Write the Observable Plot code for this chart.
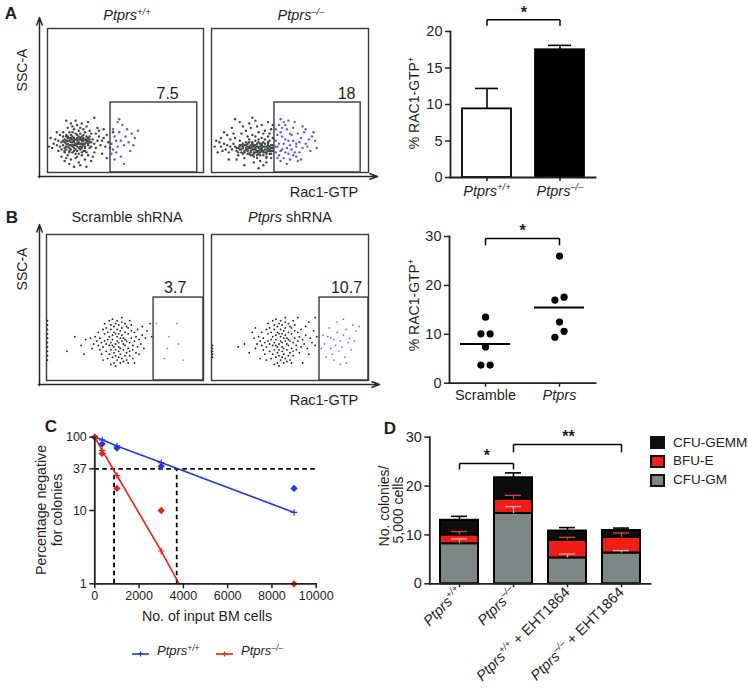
<!DOCTYPE html>
<html><head><meta charset="utf-8">
<script src="https://cdn.jsdelivr.net/npm/d3@7"></script>
<script src="https://cdn.jsdelivr.net/npm/@observablehq/plot@0.6"></script>
<style>
body{margin:0;background:#fff;}
#fig{position:relative;width:748px;height:692px;font-family:"Liberation Sans",Arial,Helvetica,sans-serif;color:#231f20;overflow:hidden;background:#fff;}
.abs{position:absolute;}
.t{position:absolute;white-space:nowrap;line-height:1;transform:translate(-50%,-50%);}
.r{transform:translate(-50%,-50%) rotate(-90deg);}
sup{font-size:65%;position:relative;top:-0.5em;vertical-align:baseline;line-height:0;}
.sw{position:absolute;box-sizing:border-box;border:2px solid #111;}
</style></head><body><div id="fig"></div>
<script>
// ---------------- DATA ----------------
// Panel A flow plots (SSC-A vs Rac1-GTP), events in 0–100 plot units
const flowA_titles = ["Ptprs+/+", "Ptprs–/–"];
const flowA_gatePct = ["7.5", "18"];
const flowA_gate = [{x1: 40.4, x2: 96, y2: 48.6, lx: 77}, {x1: 40.1, x2: 95, y2: 48.6, lx: 86}];
const flowA1_grey = "18,20 16,19 20,21 14,22 22,18 19,24 17,17 21,23 15,16 23,20 12,20 25,22 13,18 19,15 16,25 24,17 11,23 26,19 20,13 17,22 14,14 22,25 10,19 27,21 18,27 15,21 21,16 23,24 12,16 19,18 16,14 25,25 13,25 20,20 22,22 17,19 24,20 11,17 26,24 18,23 14,19 28,18 9,21 21,27 15,24 23,15 19,11 16,28 27,25 12,26 30,20 8,18 22,12 20,29 13,12 29,23 10,25 25,14 17,30 24,28 7,22 31,17 18,10 14,28 32,22 11,14 26,12 21,31 9,16 28,27 6,19 33,25 15,9 23,30 34,19 8,26 19,33 12,10 30,14 27,29 5,23 35,22 16,32 24,9 10,28 31,27 20,7 13,31 36,24 7,15 29,11 22,34 4,20 37,18 25,32 11,8 33,29 18,36 3,17 38,26 28,8 15,34 6,28 35,13 21,5 39,21 14,6 2,24 32,31 26,35 9,11 36,30 17,4 40,17 1,18 42,28 30,38 12,36 25,4 38,10 11,21 13,20 15,23 17,21 19,22 21,20 23,19 25,21 12,18 14,17 16,18 18,16 20,17 22,17 24,18 26,20 13,24 15,26 17,24 19,26 21,24 23,26 25,23 11,15 14,15 18,13 22,14 24,15 27,17 10,22 12,22 16,21 18,19 20,23 22,20 24,23 26,22 28,21 14,24 16,23 20,25 22,23 19,20 17,15 15,19 21,18 23,22 13,22 12,25 27,23";
const flowA1_blue = "41,20 43,25 45,18 42,30 47,22 44,14 46,28 49,19 41,13 48,33 50,25 43,9 52,21 45,35 51,30 47,11 54,27 42,16 53,15 56,24 44,22 49,6 58,29 46,37 55,19";
const flowA2_grey = "28,17 26,16 30,18 24,18 32,16 27,19 29,15 25,14 31,20 22,17 34,18 27,14 33,14 23,20 30,13 26,21 35,16 21,15 29,20 32,19 20,18 36,19 24,13 28,22 37,15 19,16 31,12 25,19 33,21 18,19 38,17 27,11 23,15 35,13 17,17 30,23 22,21 36,21 16,15 39,19 26,12 34,23 15,18 29,10 20,13 38,13 14,20 32,24 24,23 37,22 13,16 21,10 39,15 28,25 12,18 35,10 18,22 31,8 11,14 36,25 26,26 17,12 33,27 10,19 38,10 23,25 9,16 30,28 15,24 39,24 8,20 27,7 19,27 34,29 7,15 22,29 12,23 37,27 6,18 25,31 35,7 14,27 5,21 29,32 16,9 32,33 4,14 20,32 38,30 10,26 24,34 2,18 33,5 18,35 6,24 28,36 11,9 39,33 3,22 13,31 21,5 36,35 8,28 30,3 15,37 26,38 20,17 22,16 24,17 26,18 28,16 30,17 32,17 34,16 36,17 21,19 23,18 25,17 27,16 29,18 31,16 33,18 35,18 37,18 19,14 21,14 23,16 25,15 27,18 29,14 31,18 33,15 35,14 37,16 18,18 20,20 22,19 24,21 26,20 28,19 30,21 32,20 34,20 36,20 38,15 17,14 19,19 23,13 25,12 27,13 29,12 31,14 33,12 35,11 37,13 16,17 18,16 38,19 39,17 36,15 34,14 32,15 30,15 28,14";
const flowA2_blue = "42,18 44,15 41,22 46,20 43,12 45,25 48,17 47,23 41,14 50,19 44,28 49,13 52,22 46,10 51,26 43,20 54,18 48,30 42,26 53,14 45,16 56,21 50,9 47,33 55,27 41,30 58,17 52,31 44,8 57,24 49,22 60,20 46,35 54,11 51,16 59,28 43,33 62,23 48,6 56,14 42,10 53,35 61,18 45,31 64,25 50,27 58,32 47,14 63,15 55,8 41,18 66,22 52,12 60,30 44,37 57,9 49,36 65,28 54,20 67,17";

// Panel A bar chart
const barA_groups = ["Ptprs+/+", "Ptprs–/–"];
const barA_mean = [9.4, 17.5];
const barA_sem = [2.8, 0.6];
const barA_sig = [{from: "Ptprs+/+", to: "Ptprs–/–", y: 21.6, leg: 0.8, label: "*"}];

// Panel B flow plots
const flowB_titles = ["Scramble shRNA", "Ptprs shRNA"];
const flowB_gatePct = ["3.7", "10.7"];
const flowB_gate = [{x1: 68.2, x2: 100, y2: 56.8, lx: 82}, {x1: 68.8, x2: 100, y2: 56.8, lx: 86}];
const flowB1_grey = "46,26 44,25 48,27 42,28 50,24 45,30 47,22 43,23 49,29 41,26 51,27 46,20 44,32 48,31 40,24 52,22 45,27 47,34 43,19 50,33 39,28 53,26 46,23 42,31 49,21 38,25 54,29 44,17 48,36 41,21 51,19 37,27 55,24 45,35 43,33 50,28 47,18 40,30 52,32 36,23 56,27 46,38 42,16 49,25 39,33 53,20 35,26 57,30 44,21 48,15 41,35 54,34 47,29 38,20 51,37 34,29 58,23 45,14 43,37 50,17 37,32 55,21 46,32 40,18 52,36 33,24 59,28 44,39 49,13 36,35 56,33 42,24 48,40 39,15 53,17 32,27 60,25 47,12 41,38 57,19 35,18 51,14 45,41 31,30 61,31 38,36 54,38 43,12 50,39 34,21 58,35 46,16 33,33 62,22 40,41 52,12 30,25 55,15 37,39 63,29 44,10 48,43 29,22 59,18 42,42 64,34 36,14 53,41 28,29 61,37 41,11 56,12 13,20 18,30 25,28 24,18 67,30 66,39 22,24 0.6,14 0.6,17 0.6,20 0.6,23 0.6,26 0.6,29 0.6,32 0.6,35 0.6,38 0.6,41";
const flowB1_blue = "83,39 78,30 84,25 77,22 87,14 75,15 70,39";
const flowB2_grey = "45,26 43,25 47,27 41,28 49,24 44,30 46,22 42,23 48,29 40,26 50,27 45,20 43,32 47,31 39,24 51,22 44,27 46,34 42,19 49,33 38,28 52,26 45,23 41,31 48,21 37,25 53,29 43,17 47,36 40,21 50,19 36,27 54,24 44,35 42,33 49,28 46,18 39,30 51,32 35,23 55,27 45,38 41,16 48,25 38,33 52,20 34,26 56,30 43,21 47,15 40,35 53,34 46,29 37,20 50,37 33,29 57,23 44,14 42,37 49,17 36,32 54,21 45,32 39,18 51,36 32,24 58,28 43,39 48,13 35,35 55,33 41,24 47,40 38,15 52,17 31,27 59,25 46,12 40,38 56,19 34,18 50,14 44,41 30,30 60,31 37,36 53,38 42,12 49,39 33,21 57,35 45,16 32,33 61,22 39,41 51,12 29,25 62,18 36,39 63,29 43,10 47,43 28,22 64,26 41,42 65,34 35,14 52,41 27,29 60,37 40,11 58,12 66,24 26,33 55,43 62,40 17,23 21,25 28,36 31,15 24,19 66,43 67,30 0.6,16 0.6,18 0.6,20 0.6,22 0.6,24";
const flowB2_blue = "72,25 74,30 76,22 78,28 80,33 77,18 82,27 84,31 79,24 86,35 81,20 75,36 88,29 83,23 85,16 71,31 90,38 87,26 73,16 80,40 92,34 78,14 89,21 76,29 84,42 94,37 82,11 70,22 86,12 91,27";

// Panel B scatter
const scatB_groups = ["Scramble", "Ptprs"];
const scatB_scramble = [13.5, 10.1, 10.1, 7.4, 3.7, 3.7];
const scatB_scrambleSide = [0, -1, 1, 0, -1, 1];
const scatB_ptprs = [26.0, 17.6, 17.0, 12.5, 10.6, 9.4];
const scatB_ptprsSide = [0, 1, -1, 0, 1, -1];
const scatB_mean = [8.0, 15.5];
const scatB_sig = [{from: "Scramble", to: "Ptprs", y: 29.6, leg: 1.4, label: "*"}];

// Panel C limiting dilution
const ldaCells = [0, 333, 1000, 3000, 9000];
const ldaObsWT = [100, 81, 71, 40, 20];
const ldaObsKO = [100, 60, 20, 10, 1];
const ldaFitWTx = [0, 333, 1000, 3000, 9000];
const ldaFitWT = [100, 92, 76, 45, 9.4];
const ldaFitKOx = [0, 333, 1000, 3000, 3810];
const ldaFitKO = [100, 66, 30, 2.8, 1];
const ldaFreq37 = [870, 3700];
const ldaSeries = ["Ptprs+/+", "Ptprs–/–"];
const ldaYTicks = [1, 10, 37, 100];
const ldaXTicks = [0, 2000, 4000, 6000, 8000, 10000];

// Panel D colony assay
const cfuGroups = ["Ptprs+/+", "Ptprs–/–", "Ptprs+/+ + EHT1864", "Ptprs–/– + EHT1864"];
const cfuTypes = ["CFU-GM", "BFU-E", "CFU-GEMM"];
const cfuGM = [8.2, 14.4, 5.3, 6.3];
const cfuBFUE = [1.8, 2.9, 3.6, 3.2];
const cfuGEMM = [3.0, 4.4, 1.9, 1.4];
const cfuErrGM = [1.0, 1.4, 0.8, 0.5];
const cfuErrBFUE = [0.7, 0.8, 0.6, 0.9];
const cfuErrGEMM = [0.8, 1.0, 0.7, 0.5];
const cfuSig = [{from: "Ptprs+/+", to: "Ptprs–/–", i: 0, j: 1, y: 24.6, leg: 1.2, label: "*"},
                {from: "Ptprs–/–", to: "Ptprs–/– + EHT1864", i: 1, j: 3, y: 28.5, leg: 1.6, label: "**"}];

// ---------------- HELPERS ----------------
const FONT = '"Liberation Sans", Arial, Helvetica, sans-serif';
const INK = "#231f20";
const fig = document.getElementById("fig");
const NS = "http://www.w3.org/2000/svg";
const baseStyle = {fontFamily: FONT, fontSize: "13px", color: INK, background: "none", overflow: "visible", maxWidth: "none"};
const pts = s => s.trim().split(/\s+/).map(p => { const [x, y] = p.split(",").map(Number); return {x, y}; });
const RX = /^(Ptprs)(\+\/\+|–\/–)?(.*)$/;
function rich(s) {
  const m = RX.exec(s); if (!m) return s;
  return `<i>${m[1]}${m[2] ? `<sup>${m[2]}</sup>` : ""}</i>${m[3]}`;
}
function richSvg(svg, fs) {
  svg.querySelectorAll('g[aria-label$="tick label"] text').forEach(t => {
    const m = RX.exec(t.textContent); if (!m) return;
    t.textContent = "";
    const a = document.createElementNS(NS, "tspan"); a.setAttribute("font-style", "italic"); a.textContent = m[1]; t.appendChild(a);
    if (m[2]) { const b = document.createElementNS(NS, "tspan"); b.setAttribute("font-style", "italic"); b.setAttribute("font-size", fs * 0.65); b.setAttribute("dy", -fs * 0.4); b.textContent = m[2]; t.appendChild(b); }
    if (m[3]) { const c = document.createElementNS(NS, "tspan"); if (m[2]) c.setAttribute("dy", fs * 0.4); c.textContent = m[3]; t.appendChild(c); }
  });
}
function place(node, left, top, w) {
  const d = document.createElement("div"); d.className = "abs";
  d.style.left = left + "px"; d.style.top = top + "px"; if (w) d.style.width = w + "px";
  d.appendChild(node); fig.appendChild(d); return d;
}
function txt(html, x, y, size, extra = {}) {
  const d = document.createElement("div"); d.className = "t" + (extra.rot ? " r" : "");
  d.style.left = x + "px"; d.style.top = y + "px"; d.style.fontSize = size + "px";
  if (extra.bold) d.style.fontWeight = "bold";
  if (extra.left) d.style.transform = "translate(0,-50%)";
  d.innerHTML = html; fig.appendChild(d); return d;
}

// ---------------- LAYOUT (pixel geometry) ----------------
const L = {
  flow: [
    {left: 46, top: 27, w: 156, h: 144}, {left: 210, top: 27, w: 157, h: 144},
    {left: 45, top: 233, w: 157, h: 146}, {left: 210, top: 233, w: 157, h: 146}
  ],
  arrows: [
    {x1: 39, y1: 177, x2: 39, y2: 17}, {x1: 38, y1: 176, x2: 377, y2: 176},
    {x1: 39, y1: 385, x2: 39, y2: 224}, {x1: 38, y1: 384, x2: 379, y2: 384}
  ]
};

// ---------------- FLOW PLOTS ----------------
function flowPlot(box, grey, blue, gate, pct, greyColor, blueColor, r, dy) {
  const svg = Plot.plot({
    width: box.w + 2, height: box.h + 2, margin: 1,
    x: {domain: [0, 100], axis: null}, y: {domain: [0, 100], axis: null},
    style: baseStyle,
    marks: [
      Plot.dot(pts(grey), {x: "x", y: "y", r, fill: greyColor}),
      Plot.dot(pts(blue), {x: "x", y: "y", r, fill: blueColor}),
      Plot.rect([gate], {x1: "x1", x2: "x2", y1: 0, y2: "y2", fill: "none", stroke: "#3a3a3a", strokeWidth: 1.4}),
      Plot.frame({stroke: "#3a3a3a", strokeWidth: 1.4}),
      Plot.text([{...gate, pct}], {x: "lx", y: "y2", text: "pct", dy, fontSize: 16, fill: INK})
    ]
  });
  place(svg, box.left, box.top, box.w + 2);
}
flowPlot(L.flow[0], flowA1_grey, flowA1_blue, flowA_gate[0], flowA_gatePct[0], "#3f4646", "#5c5ce0", 1.2, -9);
flowPlot(L.flow[1], flowA2_grey, flowA2_blue, flowA_gate[1], flowA_gatePct[1], "#3f4646", "#5c5ce0", 1.2, -9);
flowPlot(L.flow[2], flowB1_grey, flowB1_blue, flowB_gate[0], flowB_gatePct[0], "#1c1c1c", "#8c8cdc", 0.9, -10);
flowPlot(L.flow[3], flowB2_grey, flowB2_blue, flowB_gate[1], flowB_gatePct[1], "#1c1c1c", "#7a7ad8", 0.9, -10);

// axis arrows for flow panels
place(Plot.plot({
  width: 400, height: 400, margin: 0,
  x: {domain: [0, 400], range: [0, 400], axis: null}, y: {domain: [0, 400], range: [0, 400], axis: null},
  style: baseStyle,
  marks: [Plot.arrow(L.arrows, {x1: "x1", y1: "y1", x2: "x2", y2: "y2", stroke: "#2a2a2a", strokeWidth: 1.5, headLength: 8, headAngle: 40})]
}), 0, 0, 400);

// ---------------- PANEL A BAR ----------------
(function () {
  const data = barA_groups.map((g, i) => ({g, mean: barA_mean[i], sem: barA_sem[i]}));
  const W = 200, ml = 50, mr = 5, pi = 0.33, po = 0.15;
  const step = (W - ml - mr) / (barA_groups.length - pi + 2 * po);
  const svg = Plot.plot({
    width: W, height: 205, marginLeft: ml, marginRight: mr, marginTop: 31, marginBottom: 28,
    x: {domain: barA_groups, paddingInner: pi, paddingOuter: po},
    y: {domain: [0, 20]},
    color: {domain: barA_groups, range: ["#ffffff", "#000000"]},
    style: baseStyle,
    marks: [
      Plot.ruleX(data, {x: "g", y1: "mean", y2: d => d.mean + d.sem, stroke: "#000", strokeWidth: 1.6}),
      Plot.tickY(data, {x: "g", y: d => d.mean + d.sem, stroke: "#000", strokeWidth: 1.6, insetLeft: 13, insetRight: 13}),
      Plot.barY(data, {x: "g", y: "mean", fill: "g", stroke: "#000", strokeWidth: 1.8}),
      Plot.link(barA_sig, {x1: "from", x2: "to", y1: "y", y2: "y", stroke: "#000", strokeWidth: 1.5}),
      Plot.link(barA_sig, {x1: "from", x2: "from", y1: "y", y2: d => d.y - d.leg, stroke: "#000", strokeWidth: 1.5}),
      Plot.link(barA_sig, {x1: "to", x2: "to", y1: "y", y2: d => d.y - d.leg, stroke: "#000", strokeWidth: 1.5}),
      Plot.text(barA_sig, {x: "from", y: "y", text: "label", dx: step / 2, dy: -7, fontSize: 16, fontWeight: "bold"}),
      Plot.axisY({ticks: [0, 5, 10, 15, 20], tickSize: 5, tickPadding: 3, strokeWidth: 1.5, fontSize: 14.5, label: null}),
      Plot.axisX({tickSize: 4, tickPadding: 4, strokeWidth: 1.5, fontSize: 14.5, label: null}),
      Plot.frame({anchor: "left", strokeWidth: 1.8}),
      Plot.frame({anchor: "bottom", strokeWidth: 1.8})
    ]
  });
  richSvg(svg, 14.5);
  place(svg, 400, 0, W);
})();

// ---------------- PANEL B SCATTER ----------------
(function () {
  const dots = [
    ...scatB_scramble.map((v, i) => ({g: scatB_groups[0], v, side: scatB_scrambleSide[i]})),
    ...scatB_ptprs.map((v, i) => ({g: scatB_groups[1], v, side: scatB_ptprsSide[i]}))
  ];
  const means = scatB_groups.map((g, i) => ({g, v: scatB_mean[i]}));
  const W = 200, ml = 49, mr = 5, pi = 0.33, po = 0.15;
  const step = (W - ml - mr) / (scatB_groups.length - pi + 2 * po);
  const jit = 4.6;
  const svg = Plot.plot({
    width: W, height: 210, marginLeft: ml, marginRight: mr, marginTop: 36, marginBottom: 27.3,
    x: {domain: scatB_groups, paddingInner: pi, paddingOuter: po},
    y: {domain: [0, 30]},
    style: baseStyle,
    marks: [
      ...[-1, 0, 1].map(s => Plot.dot(dots.filter(d => d.side === s), {x: "g", y: "v", r: 3.6, fill: "#000", dx: s * jit})),
      Plot.tickY(means, {x: "g", y: "v", stroke: "#000", strokeWidth: 2}),
      Plot.link(scatB_sig, {x1: "from", x2: "to", y1: "y", y2: "y", stroke: "#000", strokeWidth: 1.5}),
      Plot.link(scatB_sig, {x1: "from", x2: "from", y1: "y", y2: d => d.y - d.leg, stroke: "#000", strokeWidth: 1.5}),
      Plot.link(scatB_sig, {x1: "to", x2: "to", y1: "y", y2: d => d.y - d.leg, stroke: "#000", strokeWidth: 1.5}),
      Plot.text(scatB_sig, {x: "from", y: "y", text: "label", dx: step / 2, dy: -8, fontSize: 16, fontWeight: "bold"}),
      Plot.axisY({ticks: [0, 10, 20, 30], tickSize: 5, tickPadding: 3, strokeWidth: 1.5, fontSize: 14.5, label: null}),
      Plot.axisX({tickSize: 4, tickPadding: 3, strokeWidth: 1.5, fontSize: 14.5, label: null}),
      Plot.frame({anchor: "left", strokeWidth: 1.8}),
      Plot.frame({anchor: "bottom", strokeWidth: 1.8})
    ]
  });
  richSvg(svg, 14.5);
  place(svg, 400, 200, W);
})();

// ---------------- PANEL C ----------------
(function () {
  const BLUE = "#2438e0", RED = "#ec2219";
  const obs = [...ldaCells.map((x, i) => ({x, y: ldaObsWT[i], s: ldaSeries[0]})), ...ldaCells.map((x, i) => ({x, y: ldaObsKO[i], s: ldaSeries[1]}))];
  const fit = [...ldaFitWTx.map((x, i) => ({x, y: ldaFitWT[i], s: ldaSeries[0]})), ...ldaFitKOx.map((x, i) => ({x, y: ldaFitKO[i], s: ldaSeries[1]}))];
  const svg = Plot.plot({
    width: 330, height: 230, marginLeft: 94.3, marginRight: 14.3, marginTop: 36.7, marginBottom: 46.7,
    x: {domain: [0, 10000]},
    y: {type: "log", domain: [1, 100]},
    color: {domain: ldaSeries, range: [BLUE, RED]},
    style: baseStyle,
    marks: [
      Plot.ruleY([37], {x1: 0, x2: 10000, stroke: "#000", strokeWidth: 1.8, strokeDasharray: "4.5,3.5"}),
      Plot.ruleX(ldaFreq37, {y1: 1, y2: 37, stroke: "#000", strokeWidth: 1.8, strokeDasharray: "4.5,3.5"}),
      Plot.line(fit, {x: "x", y: "y", z: "s", stroke: "s", strokeWidth: 1.6}),
      Plot.dot(fit.filter(d => d.y > 1), {x: "x", y: "y", stroke: "s", symbol: "plus", r: 2.2, strokeWidth: 1.2}),
      Plot.dot(obs, {x: "x", y: "y", fill: "s", symbol: "diamond2", r: 3.3}),
      Plot.axisY({ticks: ldaYTicks, tickFormat: d => String(d), tickSize: 5, tickPadding: 3, strokeWidth: 1.5, fontSize: 12.5, label: null}),
      Plot.axisX({ticks: ldaXTicks, tickFormat: d => String(d), tickSize: 5, tickPadding: 2, strokeWidth: 1.5, fontSize: 12.5, label: null}),
      Plot.frame({anchor: "left", strokeWidth: 1.8}),
      Plot.frame({anchor: "bottom", strokeWidth: 1.8})
    ]
  });
  place(svg, 0, 400, 330);
  // legend
  const lg = [{c: BLUE, x: 132, tx: 157, s: ldaSeries[0]}, {c: RED, x: 216, tx: 241, s: ldaSeries[1]}];
  lg.forEach(l => {
    const d = document.createElement("div"); d.className = "abs";
    d.style.left = l.x + "px"; d.style.top = "645px";
    d.innerHTML = `<svg width="18" height="10"><line x1="0" y1="5" x2="17" y2="5" stroke="${l.c}" stroke-width="1.6"/><line x1="8.5" y1="2.5" x2="8.5" y2="7.5" stroke="${l.c}" stroke-width="1.2"/><line x1="6" y1="5" x2="11" y2="5" stroke="${l.c}" stroke-width="1.2"/></svg>`;
    fig.appendChild(d);
    txt(rich(l.s), l.tx, 650, 13, {left: true});
  });
})();

// ---------------- PANEL D ----------------
(function () {
  const long = [];
  cfuGroups.forEach((g, i) => [cfuGM, cfuBFUE, cfuGEMM].forEach((arr, k) => long.push({g, type: cfuTypes[k], v: arr[i]})));
  const errs = cfuGroups.map((g, i) => {
    const t1 = cfuGM[i], t2 = t1 + cfuBFUE[i], t3 = t2 + cfuGEMM[i];
    return {g, t1, t2, t3, e1: cfuErrGM[i], e2: cfuErrBFUE[i], e3: cfuErrGEMM[i]};
  });
  const W = 280, ml = 49.3, mr = 10, pi = 0.3, po = 0.16;
  const step = (W - ml - mr) / (cfuGroups.length - pi + 2 * po);
  const errMark = (t, e, color, sw) => [
    Plot.ruleX(errs, {x: "g", y1: t, y2: d => d[t] + d[e], stroke: color, strokeWidth: sw}),
    Plot.tickY(errs, {x: "g", y: d => d[t] + d[e], stroke: color, strokeWidth: sw, insetLeft: 11, insetRight: 11})
  ];
  const svg = Plot.plot({
    width: W, height: 290, marginLeft: ml, marginRight: mr, marginTop: 36.7, marginBottom: 106.7,
    x: {domain: cfuGroups, paddingInner: pi, paddingOuter: po},
    y: {domain: [0, 30]},
    color: {domain: cfuTypes, range: ["#7d8886", "#f21e16", "#0d0d0d"]},
    style: baseStyle,
    marks: [
      ...errMark("t3", "e3", "#000", 1.6),
      Plot.barY(long, {x: "g", y: "v", fill: "type", stroke: "#000", strokeWidth: 2}),
      ...errMark("t1", "e1", "#d9b3ae", 1.3),
      ...errMark("t2", "e2", "#d2453f", 1.3),
      Plot.link(cfuSig, {x1: "from", x2: "to", y1: "y", y2: "y", stroke: "#000", strokeWidth: 1.5}),
      Plot.link(cfuSig, {x1: "from", x2: "from", y1: "y", y2: d => d.y - d.leg, stroke: "#000", strokeWidth: 1.5}),
      Plot.link(cfuSig, {x1: "to", x2: "to", y1: "y", y2: d => d.y - d.leg, stroke: "#000", strokeWidth: 1.5}),
      ...cfuSig.map(s => Plot.text([s], {x: "from", y: "y", text: "label", dx: (s.j - s.i) * step / 2, dy: -8, fontSize: 16, fontWeight: "bold"})),
      Plot.axisY({ticks: [0, 10, 20, 30], tickSize: 5, tickPadding: 3, strokeWidth: 1.5, fontSize: 14.5, label: null}),
      Plot.axisX({tickSize: 4, tickPadding: 2, tickRotate: -45, strokeWidth: 1.5, fontSize: 14.5, label: null}),
      Plot.frame({anchor: "left", strokeWidth: 1.8}),
      Plot.frame({anchor: "bottom", strokeWidth: 1.8})
    ]
  });
  richSvg(svg, 14.5);
  place(svg, 380, 400, W);
  // legend
  const lgColors = ["#0d0d0d", "#f21e16", "#7d8886"];
  const lgNames = [cfuTypes[2], cfuTypes[1], cfuTypes[0]];
  [442.7, 461.3, 480].forEach((y, i) => {
    const s = document.createElement("div"); s.className = "sw";
    s.style.left = "650px"; s.style.top = (y - 6.5) + "px"; s.style.width = "15px"; s.style.height = "13px"; s.style.background = lgColors[i];
    fig.appendChild(s);
    txt(lgNames[i], 673, y, 13.5, {left: true});
  });
})();

// ---------------- TEXT LABELS ----------------
txt("A", 11, 13, 17, {bold: true});
txt("B", 12, 217, 17, {bold: true});
txt("C", 51, 426, 17, {bold: true});
txt("D", 390, 428, 17, {bold: true});
txt(rich(flowA_titles[0]), 127, 15, 14.5);
txt(rich(flowA_titles[1]), 301, 15, 14.5);
txt(rich(flowB_titles[0]), 127, 217, 14.5);
txt(rich(flowB_titles[1]), 290, 217, 14.5);
txt("SSC-A", 22, 70, 14, {rot: true});
txt("SSC-A", 22, 269, 14, {rot: true});
txt("Rac1-GTP", 324, 192, 14.5);
txt("Rac1-GTP", 324, 400, 14.5);
txt("% RAC1-GTP<sup>+</sup>", 414, 103, 14, {rot: true});
txt("% RAC1-GTP<sup>+</sup>", 414, 305, 14, {rot: true});
txt("Percentage negative", 41, 510, 14.2, {rot: true});
txt("for colonies", 57, 510, 14.2, {rot: true});
txt("No. of input BM cells", 207, 616, 14.2);
txt("No. colonies/", 384, 506, 14, {rot: true});
txt("5,000 cells", 398, 510, 14, {rot: true});
</script></body></html>
